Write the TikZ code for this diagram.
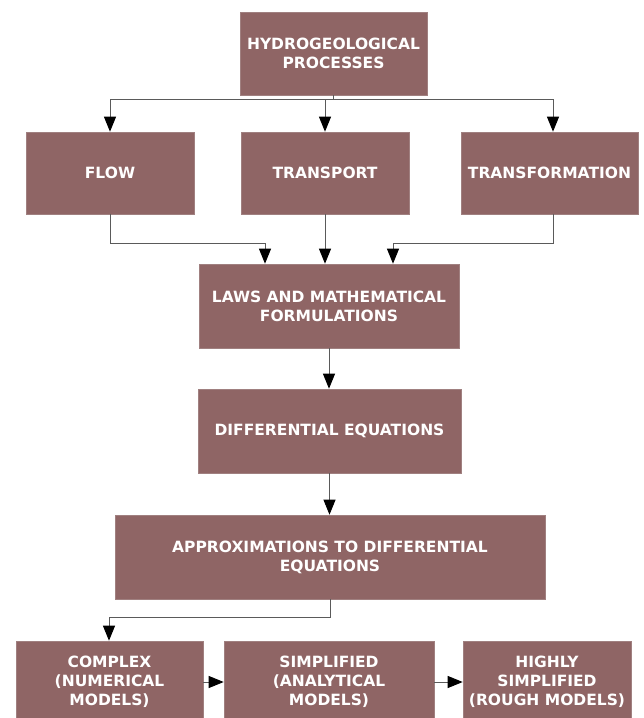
\documentclass[tikz,border=0pt]{standalone}
\usepackage{fontspec}
\setmainfont{DejaVu Sans}
\usetikzlibrary{arrows.meta}
\definecolor{boxfill}{HTML}{8F6565}
\definecolor{boxedge}{HTML}{A08080}
\definecolor{linegray}{HTML}{5A5A5A}
\tikzset{
  box/.style={rectangle, fill=boxfill, draw=boxedge, line width=0.6pt,
    text=white, align=center, inner sep=0pt,
    font=\fontsize{15.5}{19}\selectfont\bfseries},
  conn/.style={draw=linegray, line width=0.9pt},
  arr/.style={conn, -{Triangle[length=15pt,width=12pt,color=black]}}
}
\begin{document}
\begin{tikzpicture}[x=1pt,y=-1pt]
\useasboundingbox (0,0) rectangle (644,718);
\clip (0,0) rectangle (644,718);
\fill[white] (0,0) rectangle (644,718);
\node[box, minimum width=187pt, minimum height=83pt] (top) at (333.5,53.5) {HYDROGEOLOGICAL\\PROCESSES};
\node[box, minimum width=168pt, minimum height=82pt] (flow) at (110,173) {FLOW};
\node[box, minimum width=168pt, minimum height=82pt] (transport) at (325,173) {TRANSPORT};
\node[box, minimum width=177pt, minimum height=82pt] (transf) at (549.5,173) {TRANSFORMATION};
\node[box, minimum width=260pt, minimum height=84pt] (laws) at (329,306) {LAWS AND MATHEMATICAL\\FORMULATIONS};
\node[box, minimum width=263pt, minimum height=84pt] (diff) at (329.5,431) {DIFFERENTIAL EQUATIONS};
\node[box, minimum width=430pt, minimum height=84pt] (approx) at (330,557) {APPROXIMATIONS TO DIFFERENTIAL\\EQUATIONS};
\node[box, minimum width=187pt, minimum height=82pt] (complex) at (109.5,682) {COMPLEX\\(NUMERICAL\\MODELS)};
\node[box, minimum width=210pt, minimum height=82pt] (simplified) at (329,682) {SIMPLIFIED\\(ANALYTICAL\\MODELS)};
\node[box, minimum width=168pt, minimum height=82pt] (highly) at (547,682) {HIGHLY\\SIMPLIFIED\\(ROUGH MODELS)};
% bus from top
\coordinate (busL) at (110,99);
\coordinate (busR) at (553,99);
\draw[conn] (busL) -- (busR);
\draw[conn] (top.south) -- (top.south |- busL);
\draw[arr] (busL) -- (busL |- flow.north);
\draw[arr] (transport.north |- busL) -- (transport.north);
\draw[arr] (busR) -- (busR |- transf.north);
% into laws
\coordinate (m1) at (265,243);
\coordinate (m3) at (393,243);
\draw[arr] (flow.south) |- (m1) -- (m1 |- laws.north);
\draw[arr] (transport.south) -- (transport.south |- laws.north);
\draw[arr] (busR |- transf.south) |- (m3) -- (m3 |- laws.north);
% chain
\draw[arr] (laws.south) -- (laws.south |- diff.north);
\draw[arr] (diff.south) -- (diff.south |- approx.north);
\coordinate (m4) at (109,617);
\draw[arr] (approx.south) |- (m4) -- (m4 |- complex.north);
\draw[arr] (complex.east) -- (simplified.west);
\draw[arr] (simplified.east) -- (highly.west);
\end{tikzpicture}
\end{document}
